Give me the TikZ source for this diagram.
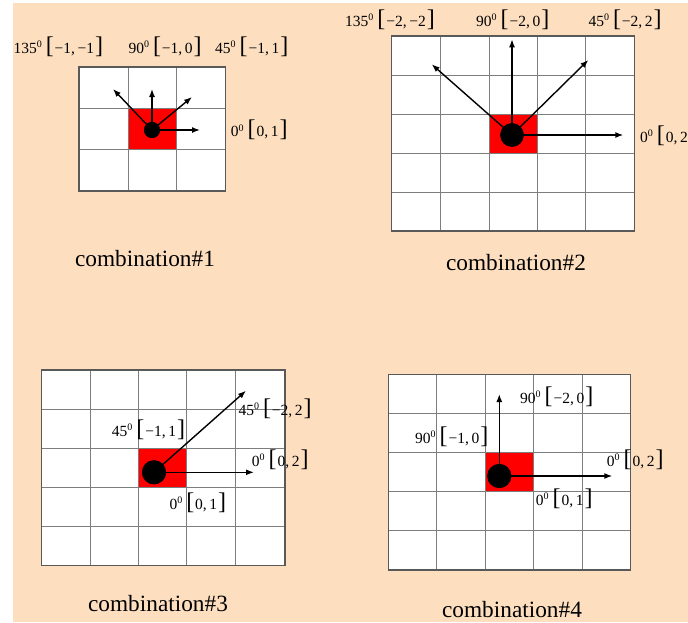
\documentclass[tikz,border=0pt]{standalone}
\usepackage{fontspec}
\setmainfont{Liberation Serif}
\usetikzlibrary{arrows.meta}
\definecolor{peach}{RGB}{253,223,192}
\definecolor{gridgray}{RGB}{125,125,125}
\newcommand\bigbr[1]{{\fontsize{24}{24}\selectfont #1}}
\newcommand\dirlbl[2]{#1\raisebox{5.5pt}{\fontsize{10}{10}\selectfont 0}\hspace{4pt}\bigbr[\hspace{1pt}#2\hspace{1pt}\bigbr]}
\begin{document}
\begin{tikzpicture}[x=1pt,y=-1pt,
  gridline/.style={draw=gridgray, line width=1pt},
  frame/.style={draw=black!65, line width=1.1pt},
  dot/.style={circle, fill=black, inner sep=0pt},
  dirarrow/.style={-{Latex[length=8pt,width=6pt]}, line width=1.4pt},
  lbl/.style={anchor=base west, inner sep=0pt, font=\fontsize{15.5}{15.5}\selectfont},
  caption/.style={anchor=base, inner sep=0pt, font=\fontsize{23.3}{23.3}\selectfont}]
\useasboundingbox (0,0) rectangle (688,622);
\clip (0,0) rectangle (688,622);
\fill[peach] (13,3) rectangle (688,622);

% ---------- panel 1 ----------
\fill[white] (79,67) rectangle (225.5,191);
\fill[red] (128,108.3) rectangle (176.5,149.7);
\foreach \x in {128,176.5} \draw[gridline] (\x,67) -- (\x,191);
\foreach \y in {108.3,149.7} \draw[gridline] (79,\y) -- (225.5,\y);
\draw[frame] (79,67) rectangle (225.5,191);
\node[dot, minimum size=16pt] (d1) at (152,130) {};
\coordinate (p1a) at (113,89);
\coordinate (p1b) at (152,89);
\coordinate (p1c) at (192,97);
\coordinate (p1d) at (200,130);
\foreach \t in {p1a,p1b,p1c,p1d} \draw[dirarrow] (d1.center) -- (\t);
\node[dot, minimum size=16pt] at (d1) {};
\node[lbl] (l1a) at (13.3,53.3) {\dirlbl{135}{−1,\,−1}};
\node[lbl] (l1b) at (128.3,53.3) {\dirlbl{90}{−1,\,0}};
\node[lbl] (l1c) at (215,53.3) {\dirlbl{45}{−1,\,1}};
\node[lbl] (l1d) at (230.7,136.7) {\dirlbl{0}{0,\,1}};
\node[caption] (c1) at (145,266) {combination\#1};

% ---------- panel 2 ----------
\fill[white] (391.7,36) rectangle (634.3,231);
\fill[red] (489,114.5) rectangle (537.3,153.5);
\foreach \x in {440.3,489,537.3,585.7} \draw[gridline] (\x,36) -- (\x,231);
\foreach \y in {75,114.5,153.5,192.5} \draw[gridline] (391.7,\y) -- (634.3,\y);
\draw[frame] (391.7,36) rectangle (634.3,231);
\node[dot, minimum size=23.5pt] (d2) at (512,135) {};
\coordinate (p2a) at (431.7,64.3);
\coordinate (p2b) at (512,39.3);
\coordinate (p2c) at (588.3,60);
\coordinate (p2d) at (623.3,135);
\foreach \t in {p2a,p2b,p2c,p2d} \draw[dirarrow] (d2.center) -- (\t);
\node[dot, minimum size=23.5pt] at (d2) {};
\node[lbl] (l2a) at (345,26) {\dirlbl{135}{−2,\,−2}};
\node[lbl] (l2b) at (476,26) {\dirlbl{90}{−2,\,0}};
\node[lbl] (l2c) at (588.3,26) {\dirlbl{45}{−2,\,2}};
\node[lbl] (l2d) at (640,142) {\dirlbl{0}{0,\,2}};
\node[caption] (c2) at (516,270) {combination\#2};

% ---------- panel 3 ----------
\fill[white] (41.7,370) rectangle (285,565.7);
\fill[red] (138.3,448.3) rectangle (186.7,487.7);
\foreach \x in {90,138.3,186.7,235} \draw[gridline] (\x,370) -- (\x,565.7);
\foreach \y in {409.3,448.3,487.7,526.7} \draw[gridline] (41.7,\y) -- (285,\y);
\draw[frame] (41.7,370) rectangle (285,565.7);
\node[dot, minimum size=24pt] (d3) at (154,472.3) {};
\coordinate (p3a) at (246,390.7);
\coordinate (p3b) at (254,472.3);
\foreach \t in {p3a,p3b} \draw[dirarrow] (d3.center) -- (\t);
\node[dot, minimum size=24pt] at (d3) {};
\node[lbl] (l3a) at (111.7,436) {\dirlbl{45}{−1,\,1}};
\node[lbl] (l3b) at (238.3,415) {\dirlbl{45}{−2,\,2}};
\node[lbl] (l3c) at (251.7,466) {\dirlbl{0}{0,\,2}};
\node[lbl] (l3d) at (169.3,509.3) {\dirlbl{0}{0,\,1}};
\node[caption] (c3) at (158,611.7) {combination\#3};

% ---------- panel 4 ----------
\fill[white] (388.3,374.3) rectangle (630.8,570);
\fill[red] (485.3,452.6) rectangle (533.8,491.7);
\foreach \x in {436.8,485.3,533.8,582.3} \draw[gridline] (\x,374.3) -- (\x,570);
\foreach \y in {413.4,452.6,491.7,530.9} \draw[gridline] (388.3,\y) -- (630.8,\y);
\draw[frame] (388.3,374.3) rectangle (630.8,570);
\node[dot, minimum size=24pt] (d4) at (499.3,476) {};
\coordinate (p4a) at (499.3,394);
\coordinate (p4b) at (612.3,476);
\foreach \t in {p4a,p4b} \draw[dirarrow] (d4.center) -- (\t);
\node[dot, minimum size=24pt] at (d4) {};
\node[lbl] (l4a) at (520,403.3) {\dirlbl{90}{−2,\,0}};
\node[lbl] (l4b) at (415,443.3) {\dirlbl{90}{−1,\,0}};
\node[lbl] (l4c) at (606.7,466) {\dirlbl{0}{0,\,2}};
\node[lbl] (l4d) at (535.7,505) {\dirlbl{0}{0,\,1}};
\node[caption] (c4) at (512,617.3) {combination\#4};
\end{tikzpicture}
\end{document}
